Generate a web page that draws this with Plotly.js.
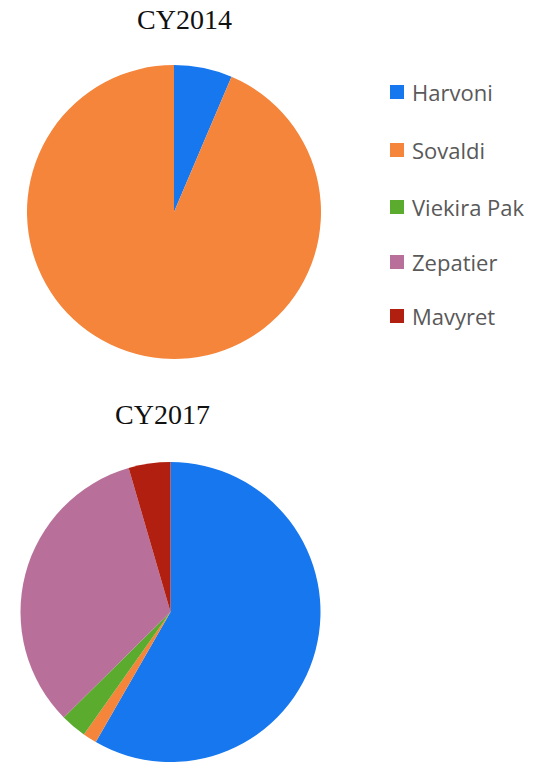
<!DOCTYPE html>
<html>
<head>
<meta charset="utf-8">
<script src="https://cdn.plot.ly/plotly-3.0.1.min.js"></script>
<style>html,body{margin:0;padding:0;background:#fff;}#chart{width:556px;height:768px;}</style>
</head>
<body>
<div id="chart"></div>
<script>
const drugs = ["Harvoni", "Sovaldi", "Viekira Pak", "Zepatier", "Mavyret"];
const colors = ["#1677ee", "#f4853a", "#5aab2e", "#b8709a", "#b01f0f"];
const titles = ["CY2014", "CY2017"];
const share2014 = [6.4, 93.6, 0, 0, 0];
const share2017 = [58.3, 1.5, 2.8, 32.9, 4.5];

const W = 556, H = 768;
function px(x){ return x / W; }
function py(y){ return 1 - y / H; }

const common = {
  type: "pie",
  labels: drugs,
  sort: false,
  direction: "clockwise",
  rotation: 0,
  textinfo: "none",
  hoverinfo: "label+percent",
  showlegend: false,
  marker: {colors: colors, line: {width: 0}}
};

const data = [
  Object.assign({}, common, {
    values: share2014,
    domain: {x: [px(27), px(321)], y: [py(359), py(65)]}
  }),
  Object.assign({}, common, {
    values: share2017,
    domain: {x: [px(20), px(321)], y: [py(762), py(462)]}
  })
];

const annotations = [
  {text: titles[0], x: px(184), y: py(20)},
  {text: titles[1], x: px(162), y: py(414)}
].map(a => Object.assign({
  xref: "paper", yref: "paper", showarrow: false,
  xanchor: "center", yanchor: "middle",
  font: {family: "Liberation Serif, DejaVu Serif, serif", size: 28, color: "#111"}
}, a));

const legendY = [92, 150, 207, 262, 316];
const shapes = [];
drugs.forEach((d, i) => {
  annotations.push({
    text: d, xref: "paper", yref: "paper", showarrow: false,
    x: px(410), y: py(legendY[i]), xanchor: "left", yanchor: "middle",
    font: {family: "Open Sans, Noto Sans, sans-serif", size: 22, color: "#595959"}
  });
  shapes.push({
    type: "rect", xref: "paper", yref: "paper",
    x0: px(390), x1: px(404), y0: py(legendY[i] + 7), y1: py(legendY[i] - 7),
    fillcolor: colors[i], line: {width: 0}
  });
});

const layout = {
  width: W, height: H,
  margin: {l: 0, r: 0, t: 0, b: 0},
  paper_bgcolor: "#fff",
  annotations: annotations,
  shapes: shapes
};

Plotly.newPlot("chart", data, layout, {displayModeBar: false, staticPlot: true});
</script>
</body>
</html>
